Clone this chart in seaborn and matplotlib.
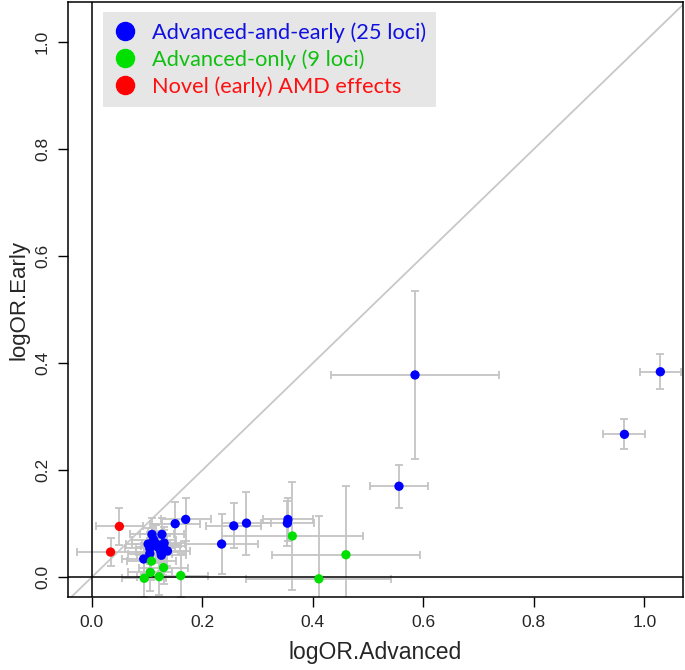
import numpy as np
import pandas as pd
import seaborn as sns
import matplotlib.pyplot as plt
from matplotlib.lines import Line2D

# advanced-and-early loci (25)
ae_x = [1.029, 0.964, 0.585, 0.556, 0.355, 0.354, 0.280, 0.257, 0.235, 0.170,
        0.151, 0.109, 0.127, 0.102, 0.117, 0.131, 0.105, 0.120, 0.137, 0.126,
        0.094, 0.105, 0.112, 0.125, 0.130]
ae_y = [0.384, 0.267, 0.378, 0.170, 0.108, 0.101, 0.101, 0.096, 0.062, 0.108,
        0.100, 0.080, 0.080, 0.062, 0.062, 0.064, 0.054, 0.056, 0.049, 0.041,
        0.034, 0.044, 0.070, 0.047, 0.058]
ae_xerr = [0.037, 0.038, 0.152, 0.052, 0.045, 0.048, 0.045, 0.050, 0.066, 0.045,
           0.045, 0.040, 0.040, 0.040, 0.045, 0.040, 0.045, 0.040, 0.040, 0.045,
           0.040, 0.040, 0.040, 0.045, 0.040]
ae_yerr = [0.033, 0.028, 0.157, 0.040, 0.040, 0.042, 0.059, 0.042, 0.056, 0.040,
           0.040, 0.030, 0.030, 0.030, 0.035, 0.030, 0.030, 0.030, 0.028, 0.030,
           0.028, 0.030, 0.030, 0.030, 0.030]

# advanced-only loci (9)
ao_x = [0.363, 0.460, 0.411, 0.161, 0.108, 0.130, 0.106, 0.095, 0.122]
ao_y = [0.077, 0.042, -0.003, 0.003, 0.030, 0.018, 0.009, -0.002, 0.001]
ao_xerr = [0.128, 0.134, 0.131, 0.050, 0.045, 0.045, 0.040, 0.040, 0.040]
ao_yerr = [0.100, 0.128, 0.118, 0.040, 0.035, 0.030, 0.035, 0.035, 0.035]

# novel early effects
nv_x = [0.050, 0.034]
nv_y = [0.095, 0.047]
nv_xerr = [0.042, 0.060]
nv_yerr = [0.035, 0.026]

groups = ['Advanced-and-early (25 loci)', 'Advanced-only (9 loci)', 'Novel (early) AMD effects']
colors = ['#0000ff', '#00e000', '#ff0000']

df = pd.concat([
    pd.DataFrame({'adv': ae_x, 'early': ae_y, 'xerr': ae_xerr, 'yerr': ae_yerr, 'group': groups[0]}),
    pd.DataFrame({'adv': ao_x, 'early': ao_y, 'xerr': ao_xerr, 'yerr': ao_yerr, 'group': groups[1]}),
    pd.DataFrame({'adv': nv_x, 'early': nv_y, 'xerr': nv_xerr, 'yerr': nv_yerr, 'group': groups[2]}),
], ignore_index=True)

sns.set_style('white')
plt.rcParams['font.family'] = ['Liberation Sans', 'DejaVu Sans']

fig = plt.figure(figsize=(6.85, 6.7), dpi=100)
ax = fig.add_axes([68 / 685, 73 / 670, 615 / 685, 595 / 670])

ax.plot([-1, 2], [-1, 2], color='#c8c8c8', lw=1.3, zorder=1)
ax.errorbar(df.adv, df.early, xerr=df.xerr, yerr=df.yerr, fmt='none',
            ecolor='#c4c4c4', elinewidth=1.3, capsize=3, capthick=1.3, zorder=2)
ax.axhline(0, color='black', lw=1.1, zorder=3)
ax.axvline(0, color='black', lw=1.1, zorder=3)
sns.scatterplot(data=df, x='adv', y='early', hue='group', palette=colors,
                s=45, edgecolor='none', legend=False, ax=ax, zorder=4)

ax.set_xlim(-0.043, 1.07)
ax.set_ylim(-0.037, 1.075)
ticks = [0.0, 0.2, 0.4, 0.6, 0.8, 1.0]
ax.set_xticks(ticks)
ax.set_yticks(ticks)
ax.set_xticklabels(['%.1f' % t for t in ticks], fontsize=12.5)
ax.set_yticklabels(['%.1f' % t for t in ticks], fontsize=12.5, rotation=90, va='center')
ax.tick_params(direction='out', length=7, width=1, color='black', pad=6, bottom=True, left=True)
for s in ax.spines.values():
    s.set_color('black')
    s.set_linewidth(1.1)
ax.set_xlabel('logOR.Advanced', fontsize=16.5, labelpad=8)
ax.set_ylabel('logOR.Early', fontsize=16, labelpad=4)

handles = [Line2D([], [], marker='o', ls='', color=c, markersize=13) for c in colors]
leg = ax.legend(handles, groups, loc='upper left', bbox_to_anchor=(0.057, 0.983),
                frameon=True, fancybox=False, facecolor='#e6e6e6', edgecolor='none',
                framealpha=1, labelcolor=['#1010e0', '#10c010', '#ff1010'],
                prop={'family': 'Lato', 'size': 15.7}, handletextpad=0.7,
                labelspacing=0.3, borderpad=0.45, handlelength=1.1, borderaxespad=0)
leg.get_frame().set_linewidth(0)

fig.savefig('out.png', dpi=100)
